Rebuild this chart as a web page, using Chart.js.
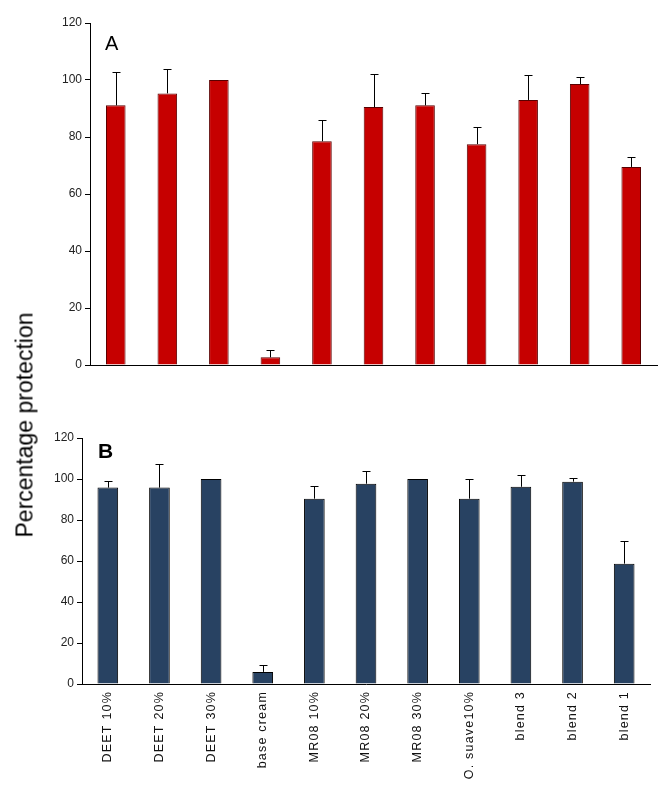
<!DOCTYPE html>
<html>
<head>
<meta charset="utf-8">
<script src="https://cdn.jsdelivr.net/npm/chart.js@4/dist/chart.umd.min.js"></script>
<style>
  html, body { margin: 0; padding: 0; background: #fff; }
  body { width: 660px; height: 785px; position: relative; overflow: hidden; font-family: "Liberation Sans", Arial, sans-serif; }
  canvas { position: absolute; left: 0; }
  #c1 { top: 0; }
  #c2 { top: 400px; }
  .panel { position: absolute; color: #000; line-height: 1; }
  #ytitle { position: absolute; left: 25px; top: 425px; transform: translate(-50%, -50%) rotate(-90deg); white-space: nowrap; font-size: 23px; color: #000; }
</style>
</head>
<body>
<canvas id="c1" width="660" height="380"></canvas>
<canvas id="c2" width="660" height="385"></canvas>
<div class="panel" style="left:105px; top:33px; font-size:20px;">A</div>
<div class="panel" style="left:98px; top:440px; font-size:21px; font-weight:bold;">B</div>
<div id="ytitle">Percentage protection</div>
<script>
const categories = ["DEET 10%", "DEET 20%", "DEET 30%", "base cream", "MR08 10%", "MR08 20%", "MR08 30%", "O. suave10%", "blend 3", "blend 2", "blend 1"];
const valuesA = [91.1, 95.3, 100, 2.7, 78.5, 90.5, 91.1, 77.5, 93.0, 98.6, 69.5];
const errorsA = [11.6, 8.7, 0, 2.5, 7.4, 11.6, 4.2, 5.9, 8.6, 2.6, 3.4];
const valuesB = [95.8, 95.8, 100, 5.9, 90.4, 97.7, 100, 90.4, 96.2, 98.7, 58.7];
const errorsB = [3.2, 11.5, 0, 3.4, 6.2, 6.2, 0, 9.6, 5.8, 1.6, 11.1];
const yTicks = [0, 20, 40, 60, 80, 100, 120];

const FONT = "'Liberation Sans', Arial, sans-serif";

const errorBarPlugin = {
  id: 'errorBars',
  afterDatasetsDraw(chart) {
    const ctx = chart.ctx;
    const yScale = chart.scales.y;
    chart.data.datasets.forEach((ds, di) => {
      const meta = chart.getDatasetMeta(di);
      const errs = ds.errors || [];
      meta.data.forEach((bar, i) => {
        const e = errs[i];
        if (!e) return;
        const yTop = yScale.getPixelForValue(ds.data[i]);
        const yErr = yScale.getPixelForValue(ds.data[i] + e);
        ctx.save();
        ctx.strokeStyle = '#000';
        ctx.lineWidth = 1;
        ctx.beginPath();
        const x = Math.round(bar.x) + 0.5;
        ctx.moveTo(x, yTop);
        ctx.lineTo(x, Math.round(yErr) + 0.5);
        ctx.moveTo(x - 4, Math.round(yErr) + 0.5);
        ctx.lineTo(x + 4, Math.round(yErr) + 0.5);
        ctx.stroke();
        ctx.restore();
      });
    });
  }
};

function makeChart(id, values, errors, opts) {
  const chart = new Chart(document.getElementById(id), {
    type: 'bar',
    data: {
      labels: categories,
      datasets: [{
        data: values,
        errors: errors,
        backgroundColor: opts.fill,
        borderColor: opts.border,
        borderWidth: 1,
        barPercentage: opts.barPct,
        categoryPercentage: 1.0
      }]
    },
    options: {
      responsive: false,
      animation: false,
      devicePixelRatio: 1,
      layout: { padding: { left: 0, right: opts.padRight, top: opts.padTop, bottom: 0 } },
      plugins: { legend: { display: false }, tooltip: { enabled: false }, title: { display: false } },
      scales: {
        x: {
          grid: { display: true, drawOnChartArea: false, drawTicks: false },
          border: { display: true, color: '#000', width: 1 },
          ticks: {
            display: opts.showX,
            autoSkip: false,
            minRotation: 90,
            maxRotation: 90,
            padding: 7,
            color: '#111',
            font: { family: FONT, size: 12.5 }
          },
          afterFit(scale) { scale.height = opts.xHeight; }
        },
        y: {
          min: 0,
          max: 120,
          afterBuildTicks(scale) { scale.ticks = yTicks.map(v => ({ value: v })); },
          grid: { display: true, drawOnChartArea: false, drawTicks: true, tickLength: 5, color: '#000' },
          border: { display: true, color: '#000', width: 1 },
          ticks: { color: '#222', padding: 3, font: { family: FONT, size: 12 } },
          afterFit(scale) { scale.width = opts.yWidth; }
        }
      }
    },
    plugins: [errorBarPlugin]
  });
  return chart;
}

const chartA = makeChart('c1', valuesA, errorsA, {
  fill: '#C60000', border: '#5a0000', barPct: 0.38,
  padRight: 3, padTop: 23, xHeight: 15, yWidth: 90, showX: false
});

const chartB = makeChart('c2', valuesB, errorsB, {
  fill: '#284262', border: '#000', barPct: 0.4,
  padRight: 10, padTop: 38, xHeight: 101, yWidth: 82, showX: true
});

// widen letter spacing of the rotated category labels only
const xs = chartB.scales.x;
const origDrawLabels = xs.drawLabels.bind(xs);
xs.drawLabels = function(area) {
  const ctx = this.ctx;
  const prev = ctx.letterSpacing;
  ctx.letterSpacing = '1.2px';
  origDrawLabels(area);
  ctx.letterSpacing = prev || '0px';
};
chartB.draw();
</script>
</body>
</html>
